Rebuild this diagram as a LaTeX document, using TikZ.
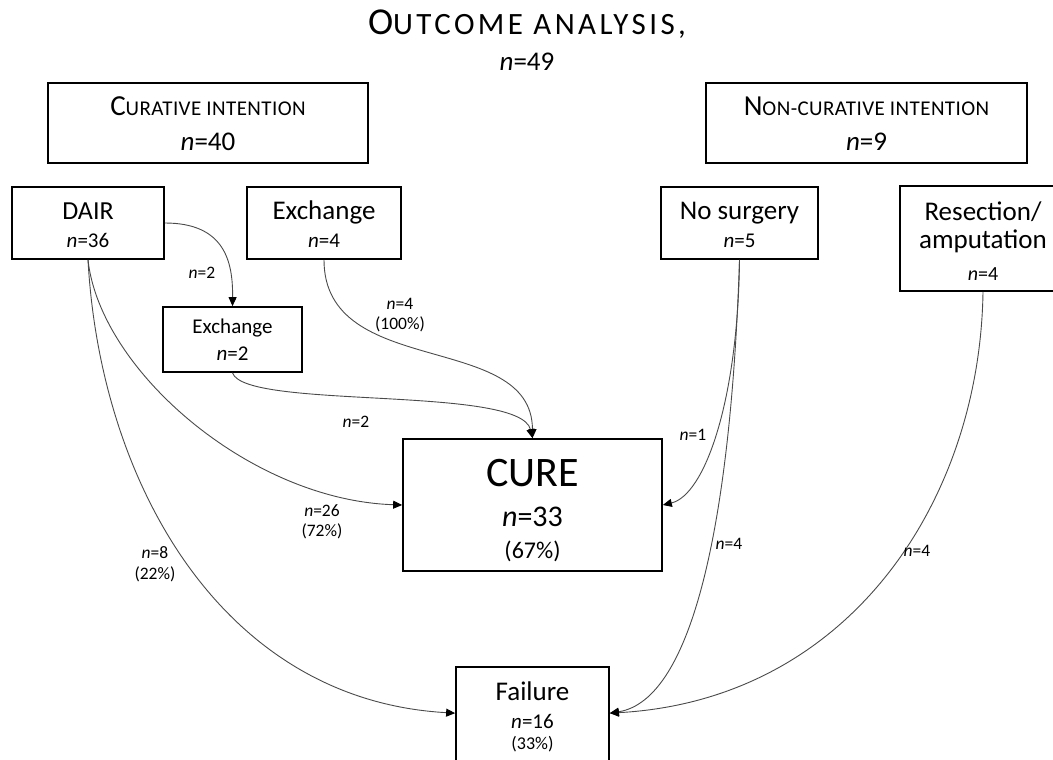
\documentclass[tikz,border=0pt]{standalone}
\usepackage{fontspec}
\setmainfont{Carlito}
\usetikzlibrary{arrows.meta,calc}
\definecolor{linec}{HTML}{4A4A4A}
\newcommand\fsz[1]{\fontsize{#1pt}{#1pt}\selectfont}
\begin{document}
\begin{tikzpicture}[x=1pt,y=-1pt,
  boxst/.style={draw=black, line width=1.7pt, inner sep=0pt},
  txt/.style={inner sep=0pt, anchor=base},
  elab/.style={inner sep=0pt, align=center, font=\fontsize{17.5pt}{20.5pt}\selectfont},
  conn/.style={draw=linec, line width=0.9pt, -{Triangle[length=9pt,width=8pt,color=black]}}]
\path[use as bounding box] (0,0) rectangle (1053,760);
\clip (0,0) rectangle (1053,760);

% title
\node[txt] (title) at (527,35) {\addfontfeatures{LetterSpace=11}{\fsz{38}O}{\fsz{31}UTCOME ANALYSIS,}};
\node[txt] (titlen) at (527,71) {\fsz{27}\textit{n}=49};

% boxes
\node[boxst, minimum width=320pt, minimum height=80pt] (cur) at (208,123) {};
\node[boxst, minimum width=321pt, minimum height=80pt] (noncur) at (866.5,123) {};
\node[boxst, minimum width=152pt, minimum height=72pt] (dair) at (88,223) {};
\node[boxst, minimum width=154pt, minimum height=72pt] (exch) at (324,223) {};
\node[boxst, minimum width=139pt, minimum height=65pt] (exch2) at (232.5,339.5) {};
\node[boxst, minimum width=157pt, minimum height=72pt] (nosurg) at (739.5,223) {};
\node[boxst, minimum width=166pt, minimum height=105pt] (resec) at (983,238.5) {};
\node[boxst, minimum width=259pt, minimum height=132pt] (cure) at (532.5,505) {};
\node[boxst, minimum width=153pt, minimum height=108pt] (fail) at (532.5,721) {};

% box texts
\node[txt] (curA) at (208,115) {\addfontfeatures{LetterSpace=2}{\fsz{29}C}{\fsz{21}URATIVE INTENTION}};
\node[txt] (curB) at (208,150) {\fsz{27}\textit{n}=40};
\node[txt] (ncA) at (866.5,115) {\addfontfeatures{LetterSpace=2}{\fsz{29}N}{\fsz{21}ON-CURATIVE INTENTION}};
\node[txt] (ncB) at (866.5,150) {\fsz{27}\textit{n}=9};
\node[txt] (dairA) at (88,219) {\fsz{26}DAIR};
\node[txt] (dairB) at (88,247) {\fsz{21}\textit{n}=36};
\node[txt] (exchA) at (324,219) {\fsz{27}Exchange};
\node[txt] (exchB) at (324,247) {\fsz{21}\textit{n}=4};
\node[txt] (exch2A) at (232.5,333) {\fsz{21}Exchange};
\node[txt] (exch2B) at (232.5,360) {\fsz{21}\textit{n}=2};
\node[txt] (nosA) at (739.5,219) {\fsz{27}No surgery};
\node[txt] (nosB) at (739.5,247) {\fsz{21}\textit{n}=5};
\node[txt] (resA) at (983,220) {\fsz{27}Resection/};
\node[txt] (resB) at (983,248) {\fsz{27}amputation};
\node[txt] (resC) at (983,280) {\fsz{20}\textit{n}=4};
\node[txt] (cureA) at (532.5,486) {\fsz{42}CURE};
\node[txt] (cureB) at (532.5,526) {\fsz{30}\textit{n}=33};
\node[txt] (cureC) at (532.5,558) {\fsz{24}(67\%)};
\node[txt] (failA) at (532.5,700) {\fsz{27}Failure};
\node[txt] (failB) at (532.5,728) {\fsz{21}\textit{n}=16};
\node[txt] (failC) at (532.5,749) {\fsz{18}(33\%)};

% connector end points
\coordinate (failL) at ($(fail.north west)+(0,47)$);
\coordinate (failR) at ($(fail.north east)+(0,47)$);

% connectors
\draw[conn] (dair.east) .. controls (225,223) and (233,262) .. (exch2.north);
\draw[conn] (exch.south) .. controls (324,380) and (532,330) .. (cure.north);
\draw[conn] (exch2.south) .. controls (245,410) and (520,385) .. (cure.north);
\draw[conn] (dair.south) .. controls (100,370) and (250,500) .. (cure.west);
\draw[conn] (dair.south) .. controls (100,480) and (220,700) .. (failL);
\draw[conn] (nosurg.south) .. controls (738,400) and (705,495) .. (cure.east);
\draw[conn] (nosurg.south) .. controls (731,520) and (693,700) .. (failR);
\draw[conn] (resec.south) .. controls (980,500) and (850,700) .. (failR);

% connector labels
\node[elab] (l1) at (202,273) {\textit{n}=2};
\node[elab] (l2) at (400,315) {\textit{n}=4\\(100\%)};
\node[elab] (l3) at (356,422) {\textit{n}=2};
\node[elab] (l4) at (322,522) {\textit{n}=26\\(72\%)};
\node[elab] (l5) at (155,564) {\textit{n}=8\\(22\%)};
\node[elab] (l6) at (693,435) {\textit{n}=1};
\node[elab] (l7) at (729,544) {\textit{n}=4};
\node[elab] (l8) at (917,551) {\textit{n}=4};
\end{tikzpicture}
\end{document}
